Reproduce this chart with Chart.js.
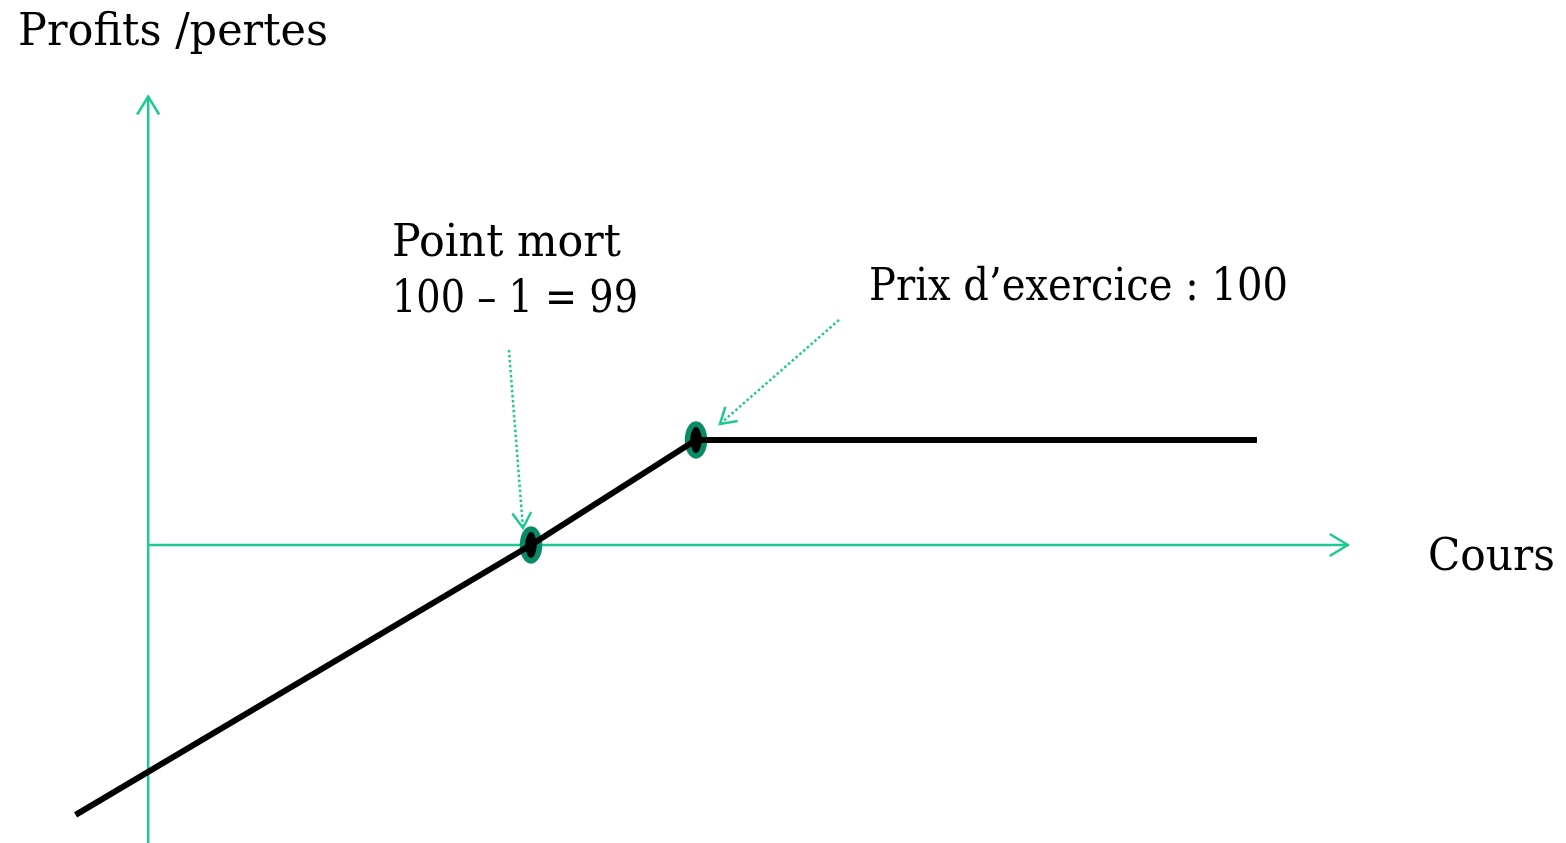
<!DOCTYPE html>
<html>
<head>
<meta charset="utf-8">
<script src="https://cdn.jsdelivr.net/npm/chart.js@4/dist/chart.umd.min.js"></script>
<style>
  html, body { margin: 0; padding: 0; background: #fff; }
  #wrap { width: 1566px; height: 843px; position: relative; }
</style>
</head>
<body>
<div id="wrap"><canvas id="chart"></canvas></div>
<script>
// payoff of the short put (x = cours, y = profit)
const cours = [96.24, 99, 100, 103.4];
const profit = [-2.57, 0, 1, 1];

// marked points: break-even and strike
const markCours = [99, 100];
const markProfit = [0, 1];

// axes extents (in data units)
const axisXFrom = 96.68;
const axisXTo = 103.95;
const axisYFrom = -2.84;
const axisYTo = 4.27;

const AXIS_COLOR = "#1ec893";
const MARK_BORDER = "#0b8a67";
const FONT = "45px 'DejaVu Serif'";

// ellipse marker image
function makeMarker() {
  const c = document.createElement("canvas");
  c.width = 28;
  c.height = 44;
  const g = c.getContext("2d");
  g.beginPath();
  g.ellipse(14, 22, 8.5, 16, 0, 0, Math.PI * 2);
  g.fillStyle = "#000";
  g.fill();
  g.lineWidth = 5.5;
  g.strokeStyle = MARK_BORDER;
  g.stroke();
  return c;
}

function arrowHead(ctx, x1, y1, x2, y2, size) {
  const a = Math.atan2(y2 - y1, x2 - x1);
  ctx.beginPath();
  ctx.moveTo(x2 - size * Math.cos(a - 0.55), y2 - size * Math.sin(a - 0.55));
  ctx.lineTo(x2, y2);
  ctx.lineTo(x2 - size * Math.cos(a + 0.55), y2 - size * Math.sin(a + 0.55));
  ctx.stroke();
}

// text squeezed/stretched to the width it has in the picture
function label(ctx, text, x, y, width) {
  const w = ctx.measureText(text).width;
  ctx.save();
  ctx.translate(x, y);
  ctx.scale(width / w, 1);
  ctx.fillText(text, 0, 0);
  ctx.restore();
}

const axesPlugin = {
  id: "axes",
  beforeDatasetsDraw(chart) {
    const { ctx } = chart;
    const sx = chart.scales.x;
    const sy = chart.scales.y;
    ctx.save();
    ctx.strokeStyle = AXIS_COLOR;
    ctx.lineWidth = 2.5;
    // horizontal axis
    const x0 = sx.getPixelForValue(axisXFrom);
    const x1 = sx.getPixelForValue(axisXTo);
    const y0 = sy.getPixelForValue(0);
    ctx.beginPath();
    ctx.moveTo(x0, y0);
    ctx.lineTo(x1, y0);
    ctx.stroke();
    arrowHead(ctx, x0, y0, x1, y0, 21);
    // vertical axis
    const yb = sy.getPixelForValue(axisYFrom);
    const yt = sy.getPixelForValue(axisYTo);
    ctx.beginPath();
    ctx.moveTo(x0, yb);
    ctx.lineTo(x0, yt);
    ctx.stroke();
    arrowHead(ctx, x0, yb, x0, yt, 21);
    ctx.restore();
  },
  afterDatasetsDraw(chart) {
    const { ctx } = chart;
    const sx = chart.scales.x;
    const sy = chart.scales.y;
    ctx.save();
    // dotted pointers
    ctx.strokeStyle = AXIS_COLOR;
    ctx.lineWidth = 2.5;
    const be = [sx.getPixelForValue(markCours[0]), sy.getPixelForValue(markProfit[0])];
    const st = [sx.getPixelForValue(markCours[1]), sy.getPixelForValue(markProfit[1])];
    const p1 = [[be[0] - 22, be[1] - 195], [be[0] - 8, be[1] - 17]];
    const p2 = [[st[0] + 143, st[1] - 120], [st[0] + 24, st[1] - 16]];
    [p1, p2].forEach(([a, b]) => {
      ctx.setLineDash([2.5, 2.5]);
      ctx.beginPath();
      ctx.moveTo(a[0], a[1]);
      ctx.lineTo(b[0], b[1]);
      ctx.stroke();
      ctx.setLineDash([]);
      arrowHead(ctx, a[0], a[1], b[0], b[1], 18);
    });
    // texts
    ctx.fillStyle = "#000";
    ctx.font = FONT;
    ctx.textBaseline = "alphabetic";
    label(ctx, "Profits /pertes", 18, 45, 310);
    label(ctx, "Point mort", 392, 256, 229);
    label(ctx, "100 \u2013 1 = 99", 392, 312, 246);
    label(ctx, "Prix d\u2019exercice : 100", 869, 300, 419);
    label(ctx, "Cours", 1428, 570, 127);
    ctx.restore();
  },
};

const marker = makeMarker();

new Chart(document.getElementById("chart"), {
  type: "scatter",
  data: {
    datasets: [
      {
        label: "Profits / pertes",
        data: cours.map((c, i) => ({ x: c, y: profit[i] })),
        showLine: true,
        borderColor: "#000",
        borderWidth: 6,
        pointRadius: 0,
        borderCapStyle: "butt",
        borderJoinStyle: "miter",
        clip: false,
      },
      {
        label: "points",
        data: markCours.map((c, i) => ({ x: c, y: markProfit[i] })),
        pointStyle: marker,
        pointRadius: 16,
        clip: false,
      },
    ],
  },
  options: {
    responsive: true,
    maintainAspectRatio: false,
    animation: false,
    layout: { padding: 0, autoPadding: false },
    plugins: { legend: { display: false }, tooltip: { enabled: false } },
    scales: {
      x: { type: "linear", display: false, min: 95.782, max: 105.273 },
      y: { type: "linear", display: false, min: -2.838, max: 5.19 },
    },
  },
  plugins: [axesPlugin],
});
</script>
</body>
</html>
